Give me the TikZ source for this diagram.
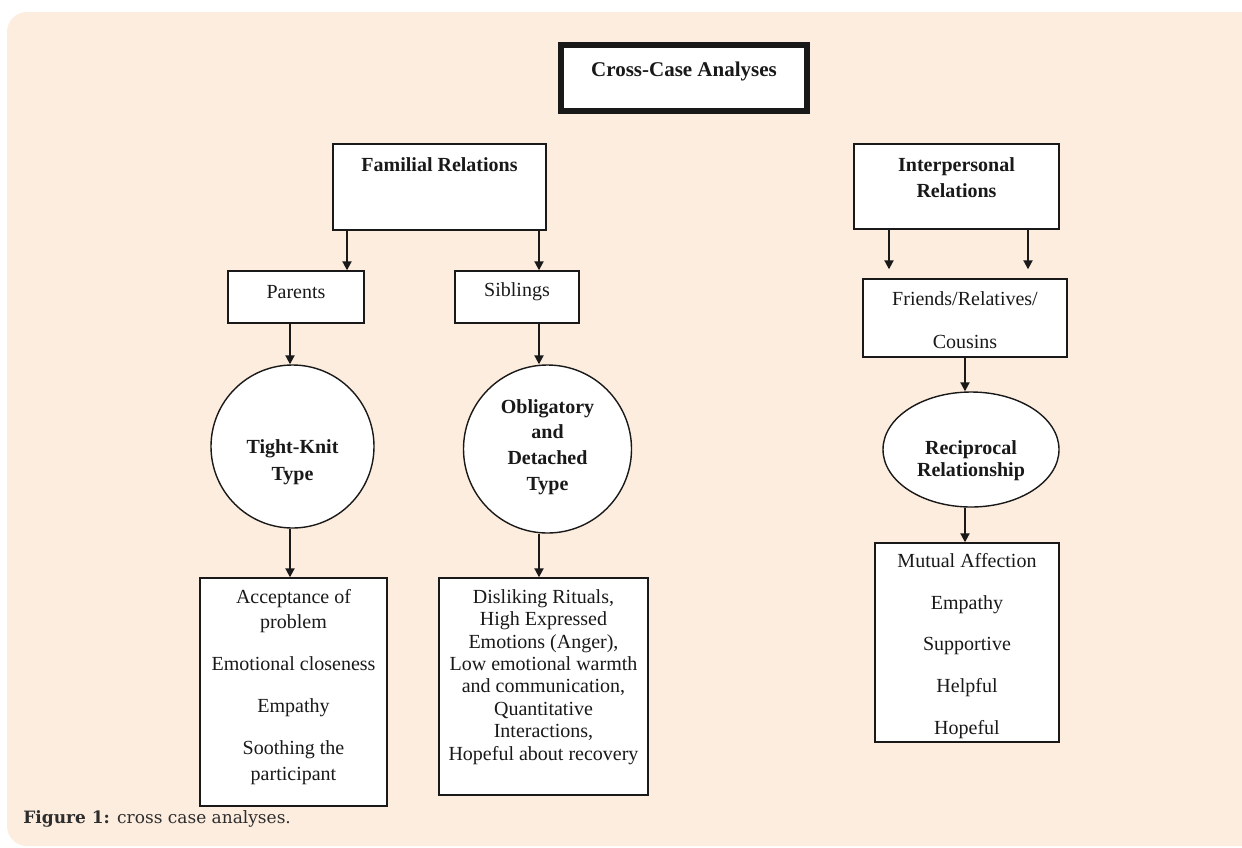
\documentclass[tikz,border=0pt]{standalone}
\usepackage{fontspec}
\setmainfont{Liberation Serif}
\newfontfamily\capfont{DejaVu Serif}
\usetikzlibrary{arrows.meta, shapes.geometric}
\definecolor{peach}{RGB}{253,237,222}
\definecolor{ink}{RGB}{25,25,25}
\definecolor{capgray}{RGB}{45,45,45}

\begin{document}
\begin{tikzpicture}[x=0.5pt, y=-0.5pt,
  box/.style={draw=ink, line width=0.7pt, fill=white, inner sep=0pt},
  bubble/.style={box, circle},
  arr/.style={draw=ink, line width=1pt, -{Triangle[length=4.5pt,width=4.5pt]}},
  every label/.style={align=center, inner sep=0pt, text=ink}]
  \useasboundingbox (0,0) rectangle (1242,847);
  \clip (0,0) rectangle (1242,847);
  \fill[peach, rounded corners=10pt] (7,12) rectangle (1270,846);

  % title
  \node[box, line width=2.5pt, minimum width=123.5pt, minimum height=33.75pt,
    label={[yshift=3.5pt, font=\fontsize{10.5}{12}\selectfont\bfseries]center:Cross-Case Analyses}] (title) at (684,78) {};
  \draw[ink, line width=0.6pt] ([shift={(5.5,5.5)}]title.north west) rectangle ([shift={(-5.5,-5.5)}]title.south east);

  % relations
  \node[box, minimum width=106.5pt, minimum height=43pt,
    label={[yshift=11pt, font=\bfseries]center:Familial Relations}] (fam) at (439.5,187) {};
  \node[box, minimum width=102.5pt, minimum height=42.5pt,
    label={[yshift=4.25pt, font=\fontsize{10}{13}\selectfont\bfseries]center:{Interpersonal\\Relations}}] (inter) at (956.5,186.5) {};

  \node[box, minimum width=68pt, minimum height=26pt, label={[yshift=2.5pt]center:Parents}] (par) at (296,297) {};
  \node[box, minimum width=62pt, minimum height=26pt, label={[yshift=2.5pt]center:Siblings}] (sib) at (517,297) {};
  \node[box, minimum width=102pt, minimum height=39pt,
    label={[yshift=-1.25pt, font=\fontsize{10}{21.5}\selectfont]center:{Friends/Relatives/\\Cousins}}] (fri) at (965,318) {};

  % types
  \node[bubble, minimum size=81.5pt,
    label={[yshift=-7.75pt, font=\fontsize{10}{13.3}\selectfont\bfseries]center:{Tight-Knit\\Type}}] (tight) at (292.5,446.5) {};
  \node[bubble, minimum size=84pt,
    label={[yshift=1pt, font=\fontsize{10}{12.8}\selectfont\bfseries]center:{Obligatory\\and\\Detached\\Type}}] (oblig) at (547.5,449) {};
  \node[box, ellipse, minimum width=88pt, minimum height=57.5pt,
    label={[yshift=-5.75pt, font=\fontsize{10}{11}\selectfont\bfseries]center:{Reciprocal\\Relationship}}] (recip) at (971,449.5) {};

  % features
  \node[box, minimum width=93.5pt, minimum height=114pt,
    label={[yshift=2.5pt, font=\fontsize{10}{12.75}\selectfont]center:{Acceptance of\\problem\\[8.25pt]Emotional closeness\\[8.25pt]Empathy\\[8.25pt]Soothing the\\participant}}] (accept) at (293.5,692) {};
  \node[box, minimum width=104.5pt, minimum height=108.5pt,
    label={[yshift=4.75pt, font=\fontsize{10}{11.2}\selectfont]center:{Disliking Rituals,\\High Expressed\\Emotions (Anger),\\Low emotional warmth\\and communication,\\Quantitative\\Interactions,\\Hopeful about recovery}}] (dislike) at (543.5,686.5) {};
  \node[box, minimum width=92pt, minimum height=99.5pt,
    label={[yshift=-1.75pt, font=\fontsize{10}{20.8}\selectfont]center:{Mutual Affection\\Empathy\\Supportive\\Helpful\\Hopeful}}] (mutual) at (967,642.5) {};

  \draw[arr] (347,0 |- fam.south) -- (347,0 |- par.north);
  \draw[arr] (539,0 |- fam.south) -- (539,0 |- sib.north);
  \draw[arr, shorten >=4.5pt] (889,0 |- inter.south) -- (889,0 |- fri.north);
  \draw[arr, shorten >=4.5pt] (1028,0 |- inter.south) -- (1028,0 |- fri.north);
  \draw[arr] (290,0 |- par.south) -- (290,0 |- tight.north);
  \draw[arr] (539,0 |- sib.south) -- (539,0 |- oblig.north);
  \draw[arr] (965,0 |- fri.south) -- (965,0 |- recip.north);
  \draw[arr] (290,0 |- tight.south) -- (290,0 |- accept.north);
  \draw[arr] (539,0 |- oblig.south) -- (539,0 |- dislike.north);
  \draw[arr] (965,0 |- recip.south) -- (965,0 |- mutual.north);

  \node[anchor=base west, inner sep=0pt, text=capgray, font=\capfont\fontsize{8.5}{10}\selectfont]
    (caption) at (23,823) {\textbf{Figure 1:} cross case analyses.};
\end{tikzpicture}
\end{document}
